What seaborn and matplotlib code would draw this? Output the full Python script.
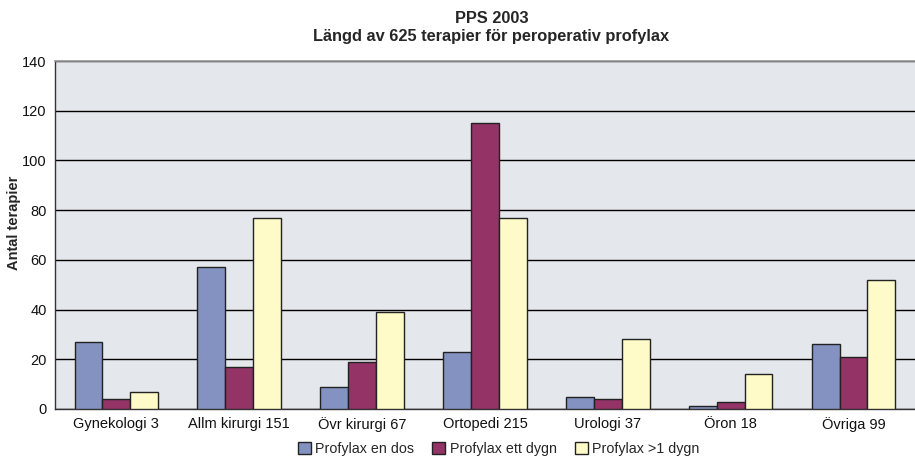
import numpy as np
import pandas as pd
import matplotlib
matplotlib.use("Agg")
import matplotlib.pyplot as plt
import seaborn as sns

# Data
categories = ["Gynekologi 3", "Allm kirurgi 151", "Övr kirurgi 67", "Ortopedi 215",
              "Urologi 37", "Öron 18", "Övriga 99"]
series_names = ["Profylax en dos", "Profylax ett dygn", "Profylax >1 dygn"]
en_dos = [27, 57, 9, 23, 5, 1, 26]
ett_dygn = [4, 17, 19, 115, 4, 3, 21]
over_ett_dygn = [7, 77, 39, 77, 28, 14, 52]
colors = ["#8492C2", "#933366", "#FFFBC9"]

df = pd.DataFrame({
    "Kategori": categories * 3,
    "Serie": [series_names[0]] * 7 + [series_names[1]] * 7 + [series_names[2]] * 7,
    "Antal": en_dos + ett_dygn + over_ett_dygn,
})

sns.set_theme(style="white")
plt.rcParams["font.family"] = ["Liberation Sans", "DejaVu Sans"]

fig = plt.figure(figsize=(9.15, 4.59), dpi=100)
ax = fig.add_axes([0.060, 0.109, 0.94, 0.758])
ax.set_facecolor("#E4E7EB")

sns.barplot(data=df, x="Kategori", y="Antal", hue="Serie", palette=colors,
            width=0.68, edgecolor="#222222", linewidth=1.0, saturation=1,
            ax=ax, zorder=3)

ax.set_ylim(0, 140)
ax.set_xlim(-0.5, 6.5)
ax.set_yticks(np.arange(0, 141, 20))
ax.yaxis.grid(True, color="black", linewidth=1.0, zorder=0)
ax.set_axisbelow(True)

# tick marks between the groups, labels at the centres
ax.set_xticks(np.arange(-0.5, 7, 1), minor=True)
ax.tick_params(axis="x", which="major", length=0, labelsize=10.5, pad=6)
ax.tick_params(axis="x", which="minor", length=4, width=1, color="#333333", direction="out")
ax.tick_params(axis="y", length=4, width=1, color="#333333", direction="out", labelsize=10.5, pad=2)
ax.tick_params(colors="#111111")

for side in ["left", "bottom"]:
    ax.spines[side].set_color("#333333")
    ax.spines[side].set_linewidth(1.0)
ax.spines["top"].set_color("#999999")
ax.spines["right"].set_visible(False)

ax.set_xlabel("")
ax.set_ylabel("Antal terapier", fontsize=10.5, fontweight="bold")
ax.yaxis.set_label_coords(-0.039, 0.535)

fig.suptitle("PPS 2003\nLängd av 625 terapier för peroperativ profylax",
             x=0.537, y=0.975, fontsize=11.8, fontweight="bold", linespacing=1.25)

handles, labels = ax.get_legend_handles_labels()
ax.legend_.remove()
fig.legend(handles, labels, loc="center", bbox_to_anchor=(0.545, 0.022), ncol=3,
           frameon=False, fontsize=10.3, handlelength=0.9, handleheight=0.9,
           handletextpad=0.3, columnspacing=1.3)

plt.savefig("out.png", dpi=100)
plt.close()
